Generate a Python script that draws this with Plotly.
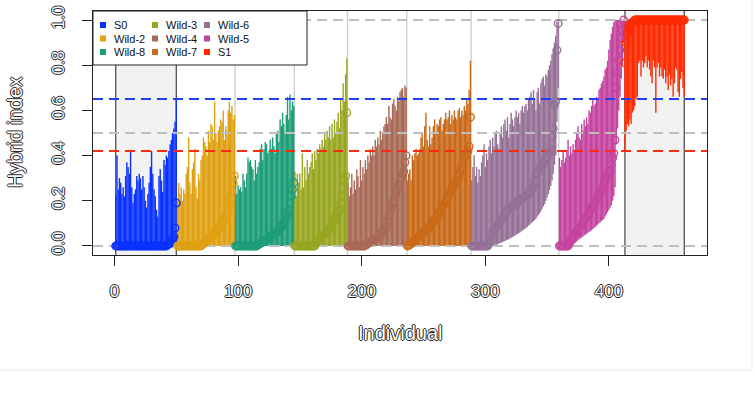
import plotly.graph_objects as go

# ---------------- data ----------------
groups = ["S0", "Wild-2", "Wild-8", "Wild-3", "Wild-4", "Wild-7", "Wild-6", "Wild-5", "S1"]
colors = ["#0A32FF", "#DFA112", "#1E9E78", "#98A622", "#A86A56",
          "#C96A1A", "#957196", "#C4449F", "#FF2A00"]

# hybrid index (point estimate) per individual, sorted within each group
s0_hi = [0,0,0,0,0,0,0,0,0,0,
         0,0,0,0,0,0,0,0,0,0,
         0,0,0,0,0,0,0,0,0,0,
         0,0,0,0,0,0,0,0,0,0,
         0,0,0.005,0.01,0.01,0.02,0.03,0.04,0.08,0.19]
w2_hi = [0,0,0,0,0,0,0,0,0,0,
         0,0,0,0,0,0,0,0,0,0,
         0.005,0.01,0.015,0.02,0.025,0.03,0.035,0.04,0.045,0.05,
         0.06,0.065,0.07,0.08,0.085,0.09,0.10,0.11,0.12,0.13,
         0.14,0.16,0.18,0.21,0.24,0.28,0.31]
w8_hi = [0,0,0,0,0,0,0,0,0,0,
         0,0,0,0,0,0,0,0,0.005,0.008,
         0.01,0.015,0.02,0.022,0.025,0.03,0.034,0.038,0.042,0.045,
         0.05,0.053,0.056,0.06,0.065,0.07,0.078,0.086,0.095,0.105,
         0.115,0.13,0.145,0.16,0.19,0.22,0.25,0.28]
w3_hi = [0,0,0,0,0,0,0,0,0,0,
         0,0,0,0,0,0,0,0.01,0.02,0.027,
         0.032,0.037,0.042,0.047,0.052,0.056,0.062,0.07,0.078,0.086,
         0.095,0.105,0.115,0.13,0.14,0.15,0.16,0.19,0.22,0.26,
         0.29,0.31,0.59]
w4_hi = [0,0,0,0,0,0,0,0,0,0,
         0,0,0,0,0.003,0.006,0.01,0.015,0.019,0.022,
         0.025,0.028,0.031,0.034,0.038,0.043,0.05,0.056,0.062,0.067,
         0.071,0.085,0.11,0.13,0.15,0.17,0.19,0.20,0.22,0.24,
         0.25,0.27,0.29,0.30,0.32,0.33,0.37,0.40]
w7_hi = [0,0.003,0.006,0.01,0.015,0.02,0.025,0.03,0.035,0.04,
         0.045,0.05,0.056,0.063,0.067,0.072,0.077,0.082,0.086,0.093,
         0.10,0.108,0.115,0.123,0.13,0.14,0.15,0.16,0.17,0.18,
         0.19,0.20,0.21,0.22,0.23,0.24,0.25,0.26,0.27,0.28,
         0.29,0.305,0.32,0.335,0.35,0.37,0.39,0.40,0.41,0.42,
         0.44,0.57]
w6_hi = [0,0,0,0,0,0,0,0,0,0,
         0,0,0,0,0.01,0.025,0.045,0.063,0.07,0.078,
         0.085,0.093,0.10,0.108,0.115,0.123,0.132,0.141,0.15,0.16,
         0.165,0.17,0.174,0.178,0.182,0.187,0.191,0.196,0.20,0.203,
         0.207,0.211,0.214,0.218,0.222,0.225,0.232,0.24,0.247,0.255,
         0.262,0.29,0.314,0.325,0.336,0.343,0.351,0.358,0.366,0.376,
         0.386,0.395,0.405,0.415,0.425,0.484,0.52,0.624,0.64,0.867,
         0.985]
w5_hi = [0,0,0,0,0,0,0,0,0.01,0.027,
         0.035,0.043,0.05,0.057,0.063,0.07,0.078,0.085,0.092,0.10,
         0.11,0.12,0.13,0.14,0.15,0.159,0.168,0.177,0.186,0.195,
         0.204,0.214,0.224,0.235,0.245,0.255,0.27,0.29,0.307,0.318,
         0.327,0.336,0.36,0.39,0.41,0.469,0.70,0.764,0.823,0.867,
         0.92,0.956,1.0]
s1_hi = [0.81,0.90,0.94,0.96,0.975,0.985,0.99,0.995,1.0,1.0,
         1.0,1.0,1.0,1.0,1.0,1.0,1.0,1.0,1.0,1.0,
         1.0,1.0,1.0,1.0,1.0,1.0,1.0,1.0,1.0,1.0,
         1.0,1.0,1.0,1.0,1.0,1.0,1.0,1.0,1.0,1.0,
         1.0,1.0,1.0,1.0,1.0,1.0,1.0,1.0,1.0]

# lower credible limits
s0_lo = [0,0,0,0,0,0,0,0,0,0, 0,0,0,0,0,0,0,0,0,0, 0,0,0,0,0,0,0,0,0,0,
         0,0,0,0,0,0,0,0,0,0, 0,0,0,0,0,0,0,0,0,0]
w2_lo = [0,0,0,0,0,0,0,0,0,0, 0,0,0,0,0,0,0,0,0,0, 0,0,0,0,0,0,0,0,0,0,
         0,0,0,0,0,0,0,0,0,0, 0,0,0,0,0,0,0]
w8_lo = [0,0,0,0,0,0,0,0,0,0, 0,0,0,0,0,0,0,0,0,0, 0,0,0,0,0,0,0,0,0,0,
         0,0,0,0,0,0,0,0,0,0, 0,0,0,0,0,0,0,0]
w3_lo = [0,0,0,0,0,0,0,0,0,0, 0,0,0,0,0,0,0,0,0,0, 0,0,0,0,0,0,0,0,0,0,
         0,0,0,0,0,0,0,0,0,0, 0,0,0]
w4_lo = [0,0,0,0,0,0,0,0,0,0, 0,0,0,0,0,0,0,0,0,0, 0,0,0,0,0,0,0,0,0,0,
         0,0,0,0,0,0,0,0,0,0, 0,0,0,0,0,0,0,0]
w7_lo = [0,0,0,0,0,0,0,0,0,0, 0,0,0,0,0,0,0,0,0,0, 0,0,0,0,0,0,0,0,0,0,
         0,0,0,0,0,0,0,0,0,0, 0,0,0,0,0,0,0,0,0,0, 0,0]
w6_lo = [0,0,0,0,0,0,0,0,0,0,
         0,0,0,0,0,0,0,0,0,0,
         0.005,0.008,0.01,0.012,0.015,0.018,0.02,0.022,0.025,0.028,
         0.03,0.033,0.036,0.04,0.043,0.046,0.05,0.053,0.056,0.06,
         0.064,0.068,0.072,0.076,0.08,0.085,0.09,0.095,0.10,0.105,
         0.11,0.115,0.12,0.13,0.137,0.145,0.155,0.165,0.175,0.185,
         0.20,0.215,0.23,0.248,0.265,0.29,0.32,0.36,0.40,0.55,
         0.70]
w5_lo = [0,0,0,0,0,0,0,0,0,0,
         0.003,0.006,0.01,0.015,0.02,0.025,0.03,0.034,0.038,0.042,
         0.046,0.05,0.054,0.058,0.062,0.066,0.07,0.075,0.08,0.085,
         0.09,0.095,0.10,0.105,0.11,0.115,0.12,0.13,0.14,0.15,
         0.16,0.17,0.18,0.20,0.22,0.26,0.45,0.52,0.60,0.66,
         0.74,0.80,0.90]
s1_lo = [0.42,0.51,0.54,0.53,0.56,0.54,0.59,0.60,0.62,0.65,
         0.66,0.81,0.82,0.75,0.82,0.79,0.81,0.84,0.79,0.82,
         0.78,0.75,0.72,0.82,0.79,0.59,0.79,0.81,0.75,0.79,
         0.75,0.74,0.78,0.72,0.75,0.69,0.76,0.71,0.74,0.66,
         0.72,0.79,0.78,0.68,0.66,0.74,0.77,0.70,0.66]

# upper credible limits
s0_up = [0.22,0.40,0.25,0.30,0.28,0.23,0.26,0.22,0.31,0.37,
         0.35,0.32,0.42,0.26,0.19,0.23,0.25,0.31,0.29,0.32,
         0.30,0.25,0.31,0.26,0.20,0.17,0.23,0.28,0.35,0.42,
         0.32,0.25,0.22,0.16,0.13,0.31,0.34,0.29,0.24,0.38,
         0.36,0.40,0.39,0.42,0.45,0.47,0.50,0.52,0.55,0.65]
w2_up = [0.20,0.28,0.23,0.26,0.20,0.25,0.23,0.32,0.35,0.48,
         0.28,0.23,0.34,0.37,0.43,0.26,0.21,0.32,0.29,0.38,
         0.40,0.48,0.46,0.44,0.40,0.51,0.46,0.54,0.53,0.47,
         0.64,0.50,0.46,0.51,0.53,0.56,0.55,0.60,0.47,0.53,
         0.51,0.60,0.64,0.59,0.62,0.56,0.58]
w8_up = [0.31,0.23,0.27,0.25,0.26,0.24,0.32,0.29,0.26,0.32,
         0.39,0.37,0.38,0.35,0.34,0.29,0.38,0.32,0.35,0.37,
         0.43,0.45,0.38,0.43,0.46,0.45,0.41,0.42,0.47,0.43,
         0.48,0.44,0.41,0.50,0.51,0.46,0.56,0.53,0.59,0.54,
         0.50,0.58,0.66,0.56,0.67,0.60,0.64,0.62]
w3_up = [0.33,0.22,0.32,0.28,0.32,0.25,0.41,0.26,0.35,0.29,
         0.38,0.32,0.35,0.37,0.41,0.34,0.42,0.38,0.43,0.41,
         0.45,0.43,0.47,0.44,0.50,0.47,0.51,0.48,0.53,0.47,
         0.54,0.48,0.56,0.50,0.55,0.59,0.52,0.65,0.60,0.72,
         0.64,0.76,0.83]
w4_up = [0.28,0.22,0.26,0.32,0.23,0.29,0.25,0.34,0.31,0.26,
         0.38,0.29,0.35,0.32,0.38,0.34,0.40,0.37,0.43,0.40,
         0.44,0.40,0.47,0.44,0.48,0.45,0.51,0.47,0.50,0.53,
         0.54,0.57,0.54,0.62,0.57,0.56,0.63,0.65,0.62,0.60,
         0.66,0.64,0.68,0.69,0.70,0.66,0.71,0.70]
w7_up = [0.29,0.32,0.34,0.29,0.40,0.38,0.41,0.43,0.40,0.41,
         0.43,0.48,0.50,0.44,0.53,0.59,0.47,0.44,0.53,0.45,
         0.48,0.53,0.56,0.50,0.54,0.53,0.56,0.57,0.51,0.54,
         0.56,0.59,0.56,0.57,0.60,0.54,0.58,0.56,0.60,0.57,
         0.56,0.60,0.61,0.57,0.60,0.58,0.62,0.60,0.65,0.63,
         0.69,0.82]
w6_up = [0.29,0.35,0.40,0.31,0.35,0.28,0.34,0.31,0.37,0.40,
         0.45,0.35,0.41,0.38,0.44,0.47,0.41,0.48,0.44,0.50,
         0.51,0.45,0.43,0.50,0.53,0.48,0.54,0.56,0.51,0.57,
         0.48,0.54,0.59,0.56,0.53,0.57,0.60,0.57,0.59,0.54,
         0.60,0.62,0.59,0.62,0.63,0.60,0.65,0.66,0.68,0.63,
         0.69,0.65,0.60,0.68,0.70,0.63,0.72,0.74,0.75,0.71,
         0.76,0.75,0.78,0.80,0.82,0.85,0.87,0.90,0.93,0.99,
         1.00]
w5_up = [0.39,0.35,0.38,0.42,0.37,0.39,0.42,0.47,0.40,0.44,
         0.41,0.45,0.42,0.47,0.50,0.53,0.48,0.47,0.54,0.51,
         0.56,0.53,0.57,0.54,0.60,0.59,0.62,0.65,0.62,0.63,
         0.66,0.65,0.69,0.70,0.72,0.73,0.75,0.78,0.79,0.82,
         0.87,0.91,0.94,0.97,0.99,1.00,1.00,1.00,1.00,1.00,
         1.00,1.00,1.00]
s1_up = [1.0,1.0,1.0,1.0,1.0,1.0,1.0,1.0,1.0,1.0,
         1.0,1.0,1.0,1.0,1.0,1.0,1.0,1.0,1.0,1.0,
         1.0,1.0,1.0,1.0,1.0,1.0,1.0,1.0,1.0,1.0,
         1.0,1.0,1.0,1.0,1.0,1.0,1.0,1.0,1.0,1.0,
         1.0,1.0,1.0,1.0,1.0,1.0,1.0,1.0,1.0]

x_ticks = [0, 100, 200, 300, 400]
y_ticks = [0.0, 0.2, 0.4, 0.6, 0.8, 1.0]
ref_gray = [0.0, 0.5, 1.0]
ref_blue = 0.65
ref_red = 0.42

hi_all = [s0_hi, w2_hi, w8_hi, w3_hi, w4_hi, w7_hi, w6_hi, w5_hi, s1_hi]
lo_all = [s0_lo, w2_lo, w8_lo, w3_lo, w4_lo, w7_lo, w6_lo, w5_lo, s1_lo]
up_all = [s0_up, w2_up, w8_up, w3_up, w4_up, w7_up, w6_up, w5_up, s1_up]

# ---------------- figure ----------------
W, H = 755, 412
L, R, T, B = 93, 48, 11, 157
PW, PH = W - L - R, H - T - B

def px(xp):
    return (xp - L) / PW

def py(yp):
    return (H - B - yp) / PH

FONT = "Liberation Sans, Arial, sans-serif"
HOLLOW = "1px 0 0 #222, -1px 0 0 #222, 0 1px 0 #222, 0 -1px 0 #222"

fig = go.Figure()
shapes = []
starts, ends, xs_all = [], [], []
start = 1
for hi in hi_all:
    xs = list(range(start, start + len(hi)))
    xs_all.append(xs)
    starts.append(start)
    ends.append(start + len(hi) - 1)
    start += len(hi)
n_total = ends[-1]
span = n_total - 1
x_range = [1 - 0.04 * span, n_total + 0.04 * span]

# 1) credible-interval bars
for name, col, xs, hi, lo, up in zip(groups, colors, xs_all, hi_all, lo_all, up_all):
    fig.add_trace(go.Scatter(
        x=xs, y=hi, mode="markers", name=name, showlegend=False, hoverinfo="skip",
        marker=dict(size=1, color="rgba(0,0,0,0)"),
        error_y=dict(type="data", symmetric=False,
                     array=[u - h for u, h in zip(up, hi)],
                     arrayminus=[h - l for h, l in zip(hi, lo)],
                     width=0, thickness=1.4, color=col),
    ))

# 2) dashed reference lines (above bars, below points)
for yv, lc in [(ref_gray[0], "#BEBEBE"), (ref_gray[1], "#BEBEBE"), (ref_gray[2], "#BEBEBE"),
               (ref_blue, "#1F3CFF"), (ref_red, "#FF2A10")]:
    fig.add_trace(go.Scatter(x=x_range, y=[yv, yv], mode="lines", showlegend=False,
                             hoverinfo="skip",
                             line=dict(color=lc, width=2, dash="10px,6px")))

# 3) point estimates
for name, col, xs, hi in zip(groups, colors, xs_all, hi_all):
    fig.add_trace(go.Scatter(
        x=xs, y=hi, mode="markers", name=name, showlegend=False, hoverinfo="skip",
        marker=dict(symbol="circle-open", size=7.5, color=col, line=dict(width=1.4, color=col)),
    ))

# shaded reference populations
for gi in (0, len(groups) - 1):
    shapes.append(dict(type="rect", xref="x", yref="paper", x0=starts[gi], x1=ends[gi],
                       y0=0, y1=1, fillcolor="#F2F2F2", line=dict(width=0), layer="below"))
# light separators between wild groups
for gi in range(2, len(groups) - 1):
    shapes.append(dict(type="line", xref="x", yref="paper", x0=starts[gi] - 0.5,
                       x1=starts[gi] - 0.5, y0=0, y1=1,
                       line=dict(color="#CDCDCD", width=1.3), layer="below"))
for gi in (0, len(groups) - 1):
    for xv in (starts[gi], ends[gi]):
        shapes.append(dict(type="line", xref="x", yref="paper", x0=xv, x1=xv, y0=0, y1=1,
                           line=dict(color="#444444", width=1.2), layer="below"))

# manual legend (3 columns, column-major)
shapes.append(dict(type="rect", xref="paper", yref="paper", x0=px(93), x1=px(307),
                   y0=py(65), y1=py(11), fillcolor="white",
                   line=dict(color="#222222", width=1), layer="above"))
annotations = []
col_x = [103, 155, 207]
row_y = [25, 38.5, 52]
for k, (name, col) in enumerate(zip(groups, colors)):
    cx, cy = col_x[k // 3], row_y[k % 3]
    shapes.append(dict(type="rect", xref="paper", yref="paper",
                       x0=px(cx - 3), x1=px(cx + 3), y0=py(cy + 3), y1=py(cy - 3),
                       fillcolor=col, line=dict(width=0), layer="above"))
    annotations.append(dict(xref="paper", yref="paper", x=px(cx + 9), y=py(cy),
                            xanchor="left", yanchor="middle", text=name, showarrow=False,
                            font=dict(family=FONT, size=11, color="#111111")))

# faint figure frame
shapes.append(dict(type="line", xref="paper", yref="paper", x0=px(0), x1=px(752),
                   y0=py(370), y1=py(370), line=dict(color="#E6E6E6", width=1)))
shapes.append(dict(type="line", xref="paper", yref="paper", x0=px(752), x1=px(752),
                   y0=py(0), y1=py(370), line=dict(color="#E6E6E6", width=1)))

# axis titles
annotations.append(dict(xref="paper", yref="paper", x=0.5, y=py(333), text="Individual",
                        showarrow=False, xanchor="center", yanchor="middle",
                        font=dict(family=FONT, size=20, color="white", shadow=HOLLOW)))
annotations.append(dict(xref="paper", yref="paper", x=px(15), y=0.5, text="Hybrid index",
                        showarrow=False, xanchor="center", yanchor="middle", textangle=-90,
                        font=dict(family=FONT, size=20, color="white", shadow=HOLLOW)))

fig.update_layout(
    width=W, height=H, margin=dict(l=L, r=R, t=T, b=B, autoexpand=False),
    paper_bgcolor="white", plot_bgcolor="white",
    shapes=shapes, annotations=annotations, showlegend=False,
    xaxis=dict(range=x_range, tickvals=x_ticks,
               ticktext=[str(v) for v in x_ticks], showgrid=False, zeroline=False,
               showline=True, mirror=True, linecolor="#222222", linewidth=1,
               ticks="outside", ticklen=10, tickcolor="#222222", tickwidth=1,
               ticklabelstandoff=11,
               tickfont=dict(family=FONT, size=17, color="white", shadow=HOLLOW)),
    yaxis=dict(range=[-0.04, 1.04], tickvals=y_ticks,
               ticktext=["%.1f" % v for v in y_ticks], showgrid=False, zeroline=False,
               showline=True, mirror=True, linecolor="#222222", linewidth=1,
               ticks="outside", ticklen=10, tickcolor="#222222", tickwidth=1,
               tickangle=-90, ticklabelstandoff=11,
               tickfont=dict(family=FONT, size=17, color="white", shadow=HOLLOW)),
)

fig.write_html("out.html")
